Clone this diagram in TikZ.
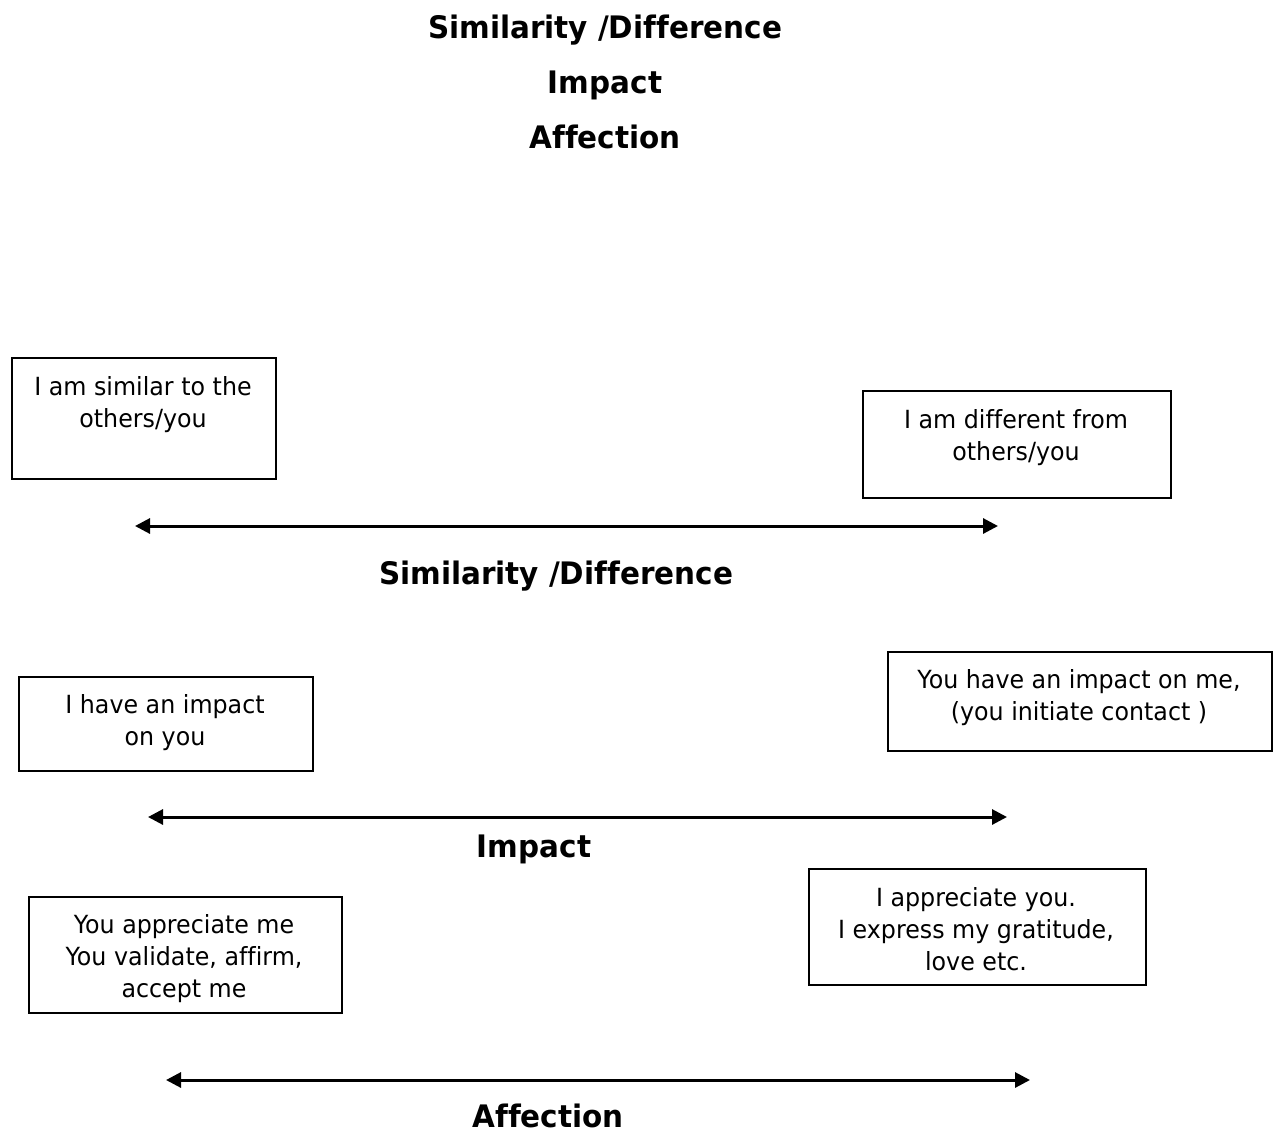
\documentclass[tikz,border=0pt]{standalone}
\usepackage{fontspec}
\setmainfont{DejaVu Sans}[FakeStretch=0.95, Ligatures=NoCommon]
\usepackage{tikz}
\usetikzlibrary{arrows.meta,positioning}

\begin{document}
\begin{tikzpicture}[x=1pt, y=-1pt,
    frame_box/.style={rectangle, draw=black, line width=2pt, inner sep=0pt, anchor=north west},
    box_text/.style={align=center, anchor=base, inner sep=0pt, font=\fontsize{25}{32}\selectfont},
    title_text/.style={anchor=base, inner sep=0pt, font=\fontsize{31}{32}\selectfont\bfseries},
    axis_arrow/.style={{Triangle[length=15pt,width=15pt]}-{Triangle[length=15pt,width=15pt]}, line width=3pt}
]
\useasboundingbox (0,0) rectangle (1276,1132);

% Heading
\node[title_text] (head_sim) at (605,38) {Similarity /Difference};
\node[title_text] (head_imp) at (605,93) {Impact};
\node[title_text] (head_aff) at (605,148) {Affection};

% Similarity / Difference (text nodes sit on the baseline of their last line)
\node[frame_box, minimum width=264pt, minimum height=121pt] (similar) at (11,357) {};
\node[box_text] (similar_text) at (143,427) {I am similar to the\\others/you};
\node[frame_box, minimum width=308pt, minimum height=107pt] (different) at (862,390) {};
\node[box_text] (different_text) at (1016,460) {I am different from\\others/you};
\coordinate (sim_left) at (135,526);
\coordinate (sim_right) at (998,526);
\draw[axis_arrow] (sim_left) -- (sim_right);
\node[title_text] (sim_label) at (556,584) {Similarity /Difference};

% Impact
\node[frame_box, minimum width=294pt, minimum height=94pt] (impact_me) at (18,676) {};
\node[box_text] (impact_me_text) at (165,745) {I have an impact\\on you};
\node[frame_box, minimum width=384pt, minimum height=99pt] (impact_you) at (887,651) {};
\node[box_text] (impact_you_text) at (1079,720) {You have an impact on me,\\(you initiate contact )};
\coordinate (imp_left) at (148,817);
\coordinate (imp_right) at (1007,817);
\draw[axis_arrow] (imp_left) -- (imp_right);
\node[title_text] (imp_label) at (534,857) {Impact};

% Affection
\node[frame_box, minimum width=313pt, minimum height=116pt] (affect_me) at (28,896) {};
\node[box_text] (affect_me_text) at (184,997) {You appreciate me\\You validate, affirm,\\accept me};
\node[frame_box, minimum width=337pt, minimum height=116pt] (affect_you) at (808,868) {};
\node[box_text] (affect_you_text) at (976,970) {I appreciate you.\\I express my gratitude,\\love etc.};
\coordinate (aff_left) at (166,1080);
\coordinate (aff_right) at (1030,1080);
\draw[axis_arrow] (aff_left) -- (aff_right);
\node[title_text, text depth=0pt] (aff_label) at (548,1127) {Affection};

\end{tikzpicture}
\end{document}
